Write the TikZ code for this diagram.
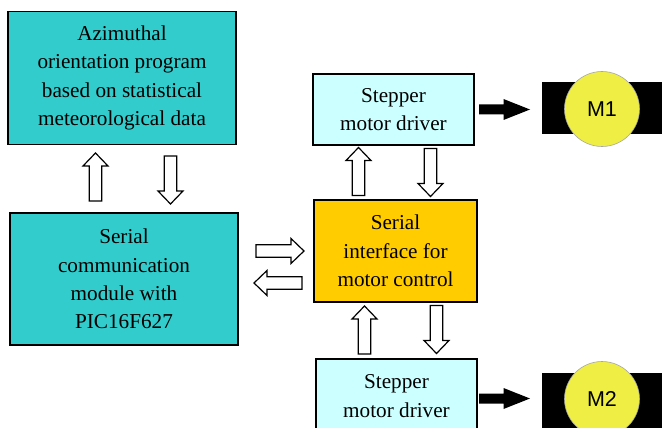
\documentclass[tikz,border=0pt]{standalone}
\usepackage{fontspec}
\setmainfont{Liberation Serif}
\newfontfamily\boxserif{Liberation Serif}
\newfontfamily\motorfont{Liberation Sans}
\definecolor{teal1}{HTML}{33CCCC}
\definecolor{cyan1}{HTML}{CCFFFF}
\definecolor{orange1}{HTML}{FFCC00}
\definecolor{yellow1}{HTML}{EEEE44}
\begin{document}
\begin{tikzpicture}[x=1pt,y=-1pt,
  box/.style={draw=black, line width=1.4pt, align=center, inner sep=0pt,
    font=\boxserif\fontsize{21.2}{28.3}\selectfont},
  hollowarr/.pic={\draw[line width=1.2pt, fill=white]
     (-24,-6.3) -- (11,-6.3) -- (11,-12.5) -- (24,0) -- (11,12.5) -- (11,6.3) -- (-24,6.3) -- cycle;},
  blackarr/.pic={\fill[black]
     (-25.5,-5) -- (-1,-5) -- (-1,-10.5) -- (25.5,0) -- (-1,10.5) -- (-1,5) -- (-25.5,5) -- cycle;},
  motorc/.style={circle, fill=yellow1, draw=gray!70, line width=0.6pt, minimum size=75pt, inner sep=0pt,
    font=\motorfont\fontsize{21.5}{24}\selectfont}
]
\useasboundingbox (0,0) rectangle (662,428);
\fill[white] (0,0) rectangle (662,428);

\node[box, fill=teal1, minimum width=228pt, minimum height=133pt] (azi) at (122,78)
  {Azimuthal\\orientation program\\based on statistical\\meteorological data};
\node[box, fill=teal1, minimum width=228pt, minimum height=132pt] (ser) at (124,279)
  {Serial\\communication\\module with\\PIC16F627};
\node[box, fill=orange1, minimum width=163pt, minimum height=102pt] (intf) at (395.5,251)
  {Serial\\interface for\\motor control};
\node[box, fill=cyan1, minimum width=161pt, minimum height=71pt] (drv1) at (393.5,109.5)
  {Stepper\\motor driver};
\node[box, fill=cyan1, minimum width=161pt, minimum height=74pt] (drv2) at (396.5,396)
  {Stepper\\motor driver};

% motors
\fill[black] (542,82) rectangle (665,134);
\node[motorc] (m1) at (602,109) {M1};
\fill[black] (542,373) rectangle (665,435);
\node[motorc] (m2) at (602,399) {M2};

% hollow arrows
\pic[rotate=90] at (95.5,177) {hollowarr};
\pic[rotate=-90] at (170.5,180) {hollowarr};
\pic at (280,251) {hollowarr};
\pic[rotate=180] at (278,283) {hollowarr};
\pic[rotate=90] at (358.5,171.5) {hollowarr};
\pic[rotate=-90] at (430.5,172.5) {hollowarr};
\pic[rotate=90] at (364.5,330) {hollowarr};
\pic[rotate=-90] at (436.5,329.5) {hollowarr};

% solid arrows
\pic at (504.5,109.5) {blackarr};
\pic at (504.5,398.5) {blackarr};
\end{tikzpicture}
\end{document}
